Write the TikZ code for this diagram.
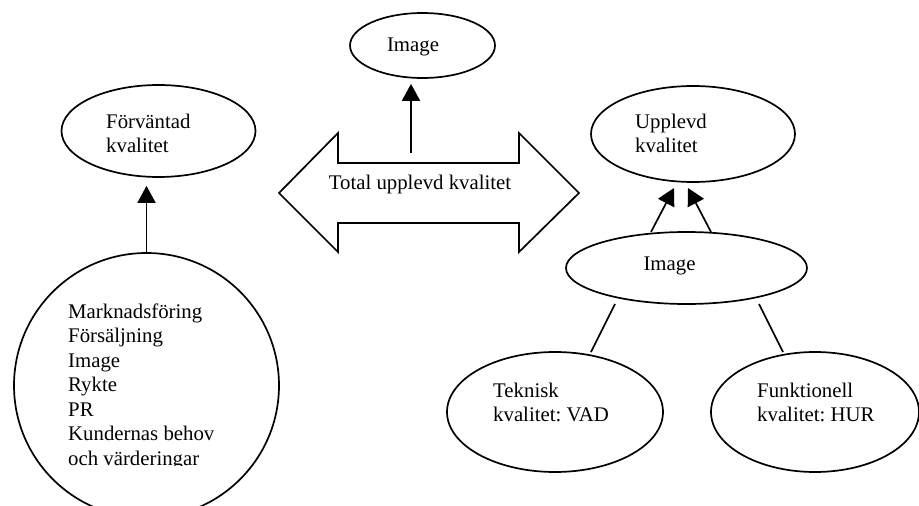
\documentclass[tikz,border=0pt]{standalone}
\usepackage{fontspec}
\setmainfont{Liberation Serif}
\usetikzlibrary{arrows.meta,shapes.geometric,calc}
\begin{document}
\frenchspacing
\begin{tikzpicture}[x=1pt,y=-1pt,
  ln/.style={line width=1.7pt},
  ell/.style={draw,ln,ellipse,inner sep=0pt},
  txt/.style={inner sep=0pt,font=\fontsize{20.8}{24.5}\selectfont,align=left},
  arr/.style={ln,-{Triangle[length=17pt,width=18pt]}}]
\useasboundingbox (0,0) rectangle (919,506);
\clip (0,0) rectangle (919,506);
% ellipses
\node[ell,minimum width=145pt,minimum height=65pt] (topimg) at (422.5,45.5) {};
\node[ell,minimum width=194pt,minimum height=92pt] (forv) at (158.5,131) {};
\node[ell,minimum width=204pt,minimum height=96pt] (uppl) at (693,134) {};
\node[ell,minimum width=241pt,minimum height=72pt] (img2) at (686.5,268) {};
\node[ell,minimum width=216pt,minimum height=120pt] (tekn) at (555,412) {};
\node[ell,minimum width=208pt,minimum height=120pt] (funk) at (815,412) {};
\node[draw,ln,circle,inner sep=0pt,minimum size=265pt] (krets) at (146.5,385.5) {};
% double arrow
\draw[ln,line join=miter] (279,193) -- (338,133) -- (338,163) -- (519,163) -- (519,133)
  -- (579,193) -- (519,252) -- (519,223) -- (338,223) -- (338,252) -- cycle;
% texts
\node[txt,anchor=base] (ttop) at (413,51) {Image};
\node[txt,anchor=base] (ttotal) at (420,189) {Total upplevd kvalitet};
\node[txt,anchor=base] (timg2) at (669.5,270) {Image};
\node[txt,anchor=north west] (tforv) at (106,113.5) {Förväntad\\kvalitet};
\node[txt,anchor=north west] (tuppl) at (635,113.5) {Upplevd\\kvalitet};
\node[txt,anchor=north west] (ttekn) at (493,382.5) {Teknisk\\kvalitet: VAD};
\node[txt,anchor=north west] (tfunk) at (757,382.5) {Funktionell\\kvalitet: HUR};
\begin{scope}
\clip (0,0) rectangle (919,465);
\node[txt,anchor=north west] (tkrets) at (68,303.5) {Marknadsföring\\Försäljning\\Image\\Rykte\\PR\\Kundernas behov\\och värderingar};
\end{scope}
% connectors
\coordinate (a1) at (411,153);
\draw[arr,shorten >=5pt] (a1) -- (a1 |- topimg.south);
\draw[arr,shorten >=8pt] (krets.north) -- (krets.north |- forv.south);
\coordinate (b1) at (651,232);
\coordinate (b1t) at (674,188);
\coordinate (b2) at (711,232);
\coordinate (b2t) at (688,188);
\draw[arr] (b1) -- (b1t);
\draw[arr] (b2) -- (b2t);
\coordinate (c1) at (615,304);
\coordinate (c1e) at (591,352);
\coordinate (c2) at (759,304);
\coordinate (c2e) at (783,352);
\draw[ln] (c1) -- (c1e);
\draw[ln] (c2) -- (c2e);
\end{tikzpicture}
\end{document}
